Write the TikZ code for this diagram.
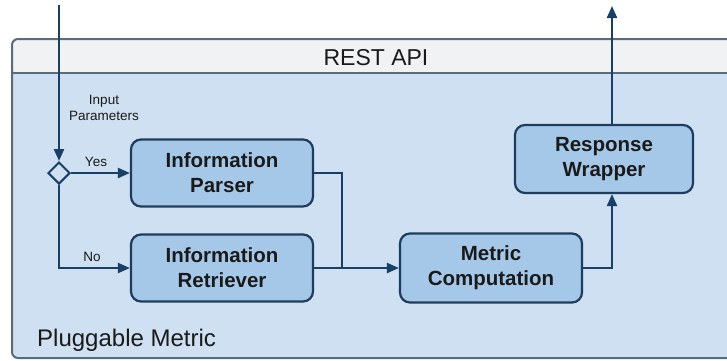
\documentclass[tikz,border=0pt]{standalone}
\usepackage{fontspec}
\setmainfont{Liberation Sans}
\usetikzlibrary{arrows.meta,shapes.geometric}
\definecolor{hdrfill}{HTML}{F1F2F4}
\definecolor{bodyfill}{HTML}{CEE0F2}
\definecolor{boxfill}{HTML}{A6C8E8}
\definecolor{boxline}{HTML}{1E3C5E}
\definecolor{flow}{HTML}{1A3F66}
\definecolor{frameline}{HTML}{5A6B7C}
\definecolor{txt}{HTML}{1A1A1A}
\tikzset{
  procbox/.style={draw=boxline, fill=boxfill, line width=2.2pt, rounded corners=10pt,
    minimum width=182pt, minimum height=67pt, align=center, text=txt,
    font=\fontsize{20.5}{25}\selectfont\bfseries, inner sep=0pt},
  flowline/.style={draw=flow, line width=2.2pt},
  flowarrow/.style={flowline, -{Triangle[length=12pt,width=10pt]}},
  smalllabel/.style={font=\fontsize{13.5}{16}\selectfont, text=txt, align=center, inner sep=0pt},
}
\begin{document}
\begin{tikzpicture}[x=1pt,y=-1pt]
\useasboundingbox (0,0) rectangle (727,360);
\clip (0,0) rectangle (727,360);
% frame
\fill[bodyfill, rounded corners=6pt] (12,39) rectangle (745,358);
\fill[hdrfill, rounded corners=6pt] (12,39) -- (745,39) -- (745,73) -- (12,73) -- cycle;
\draw[frameline, line width=1.8pt] (12,73) -- (745,73);
\draw[frameline, line width=2pt, rounded corners=6pt] (745,358) -- (12,358) -- (12,39) -- (745,39);
\node[font=\fontsize{23}{27}\selectfont, text=txt] (title) at (376,58) {REST API};
\node[font=\fontsize{24}{28}\selectfont, text=txt, anchor=west, inner sep=0pt] (plug) at (37,340) {Pluggable Metric};
% nodes
\node[procbox] (parser) at (222,173) {Information\\Parser};
\node[procbox] (retriever) at (222,268) {Information\\Retriever};
\node[procbox, minimum height=69pt] (metric) at (491,268) {Metric\\Computation};
\node[procbox, minimum width=178pt, minimum height=68pt] (wrapper) at (604,159) {Response\\Wrapper};
\node[diamond, draw=flow, fill=bodyfill, line width=2pt, minimum width=22pt, minimum height=22pt, inner sep=0pt] (dec) at (59,173) {};
\coordinate (in) at (59,5);
\coordinate (out) at (612,6);
\coordinate (join) at (342,268);
% labels
\node[smalllabel] (inlabel) at (104,108) {Input\\Parameters};
\node[smalllabel] (yes) at (96,162) {Yes};
\node[smalllabel] (no) at (92,257) {No};
% connectors
\draw[flowarrow] (in) -- (dec.north);
\draw[flowarrow] (dec.east) -- (parser.west);
\draw[flowarrow] (dec.south) |- (retriever.west);
\draw[flowline] (parser.east) -| (join);
\draw[flowarrow] (retriever.east) -- (metric.west);
\draw[flowarrow] (metric.east) -| ([xshift=8pt]wrapper.south);
\draw[flowarrow] ([xshift=8pt]wrapper.north) -- (out);
\end{tikzpicture}
\end{document}
